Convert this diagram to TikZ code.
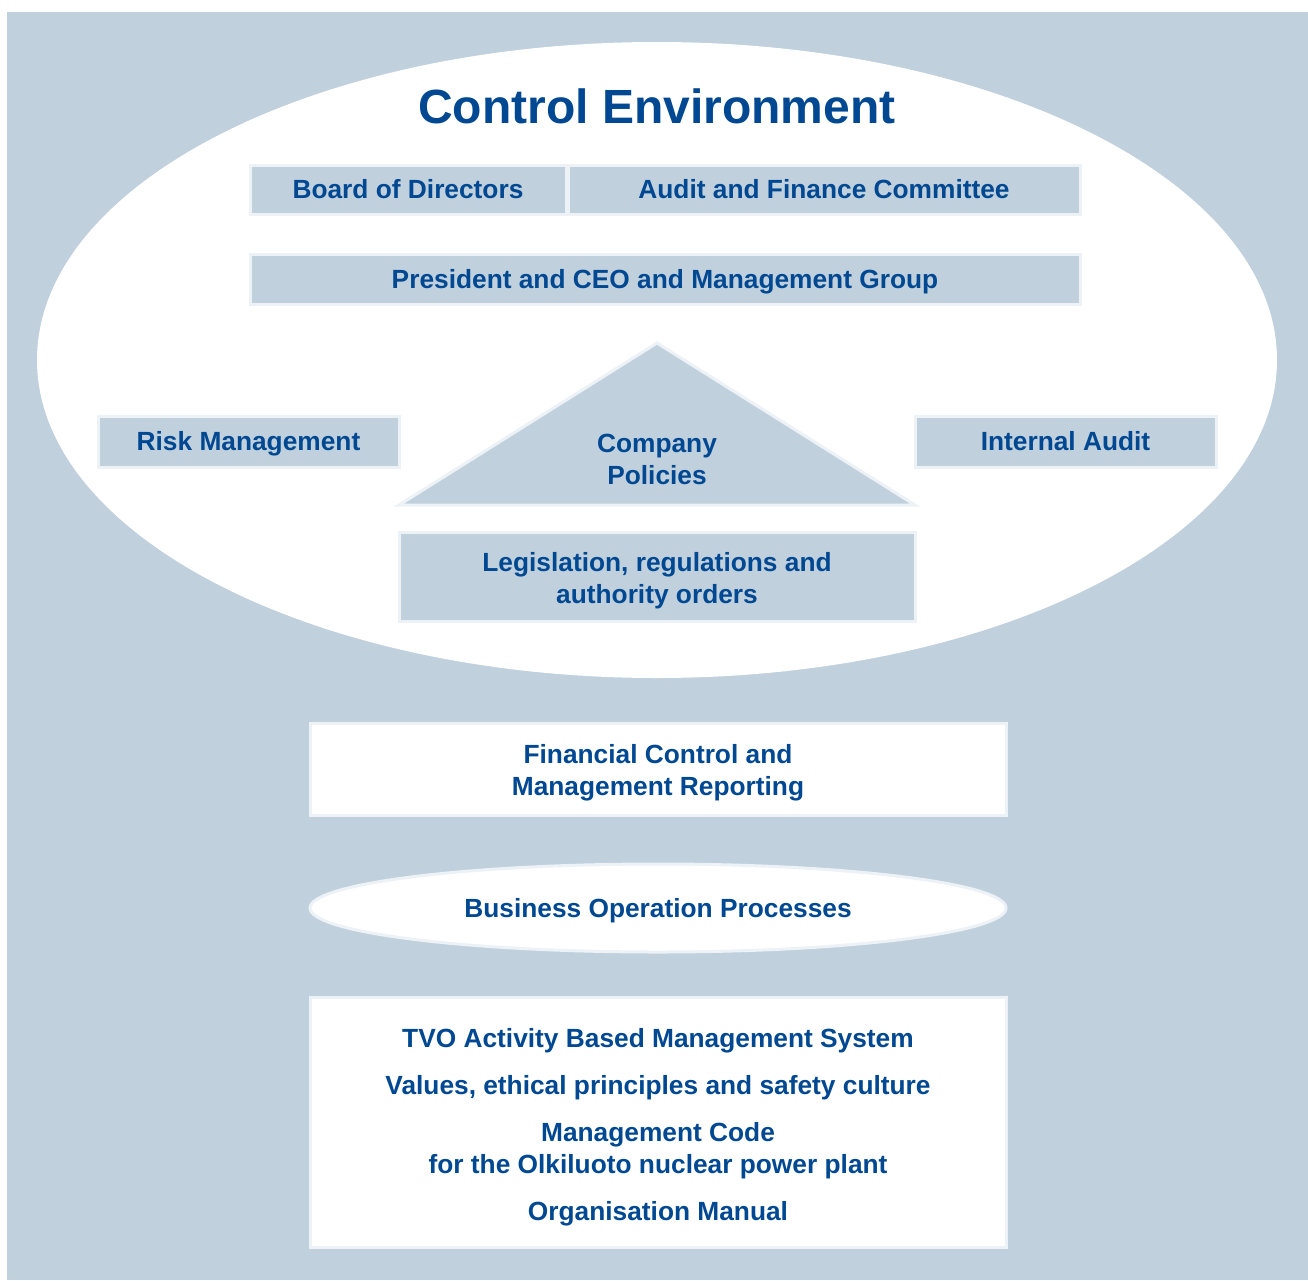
\documentclass[tikz,border=0pt]{standalone}
\usepackage{fontspec}
\setmainfont{Liberation Sans}
\usetikzlibrary{shapes.geometric}
\definecolor{bgblue}{HTML}{C0D0DD}
\definecolor{txtblue}{HTML}{004891}
\definecolor{edgewhite}{HTML}{EDF2F7}
\tikzset{
  lbl/.style={text=txtblue, font=\bfseries\fontsize{26.3}{32}\selectfont, align=center, inner sep=0pt},
  oneline/.style={lbl, text height=23pt, text depth=4.4pt},
  bluebox/.style={rectangle, fill=bgblue, draw=edgewhite, line width=3pt, inner sep=0pt},
  whitebox/.style={rectangle, fill=white, draw=edgewhite, line width=3pt, inner sep=0pt},
}
\begin{document}
\begin{tikzpicture}[x=1pt,y=-1pt]
\useasboundingbox (0,0) rectangle (1308,1280);
\fill[bgblue] (7,12) rectangle (1308,1280);
% big ellipse
\node[ellipse, fill=white, draw=none, minimum width=1240pt, minimum height=636pt, inner sep=0pt] (ce) at (657,360) {};
\node[text=txtblue, font=\bfseries\fontsize{48}{52}\selectfont, inner sep=0pt] (title) at (657,106) {Control Environment};
% top boxes
\node[bluebox, oneline, minimum width=316pt, minimum height=49pt] (bod) at (408,189.5) {Board of Directors};
\node[bluebox, oneline, minimum width=512pt, minimum height=49pt] (afc) at (824,189.5) {Audit and Finance Committee};
\node[bluebox, oneline, minimum width=830pt, minimum height=50pt] (pres) at (665,279) {President and CEO and Management Group};
% side boxes
\node[bluebox, oneline, minimum width=301pt, minimum height=51pt] (risk) at (248.5,441.5) {Risk Management};
\node[bluebox, oneline, minimum width=301pt, minimum height=51pt] (ia) at (1065.5,441.5) {Internal Audit};
% triangle
\filldraw[fill=bgblue, draw=edgewhite, line width=3pt, line join=miter] (657,343) -- (915,505) -- (399,505) -- cycle;
\node[lbl] (cp) at (657,459) {Company\\Policies};
% legislation
\node[bluebox, minimum width=516pt, minimum height=89pt,
  label={[lbl, yshift=-4pt]center:{Legislation, regulations and\\authority orders}}] (leg) at (657,576.5) {};
% financial control
\node[whitebox, minimum width=696pt, minimum height=92pt,
  label={[lbl, yshift=-4pt]center:{Financial Control and\\Management Reporting}}] (fc) at (658,769) {};
% business processes
\node[oneline, ellipse, fill=white, draw=edgewhite, line width=3pt, minimum width=696pt, minimum height=88pt] (bop) at (658,908) {Business Operation Processes};
% TVO box
\node[whitebox, minimum width=696pt, minimum height=250pt,
  label={[lbl, yshift=-5pt]center:{TVO Activity Based Management System\\[15pt]Values, ethical principles and safety culture\\[15pt]Management Code\\for the Olkiluoto nuclear power plant\\[15pt]Organisation Manual}}] (tvo) at (658,1122) {};
\end{tikzpicture}
\end{document}
